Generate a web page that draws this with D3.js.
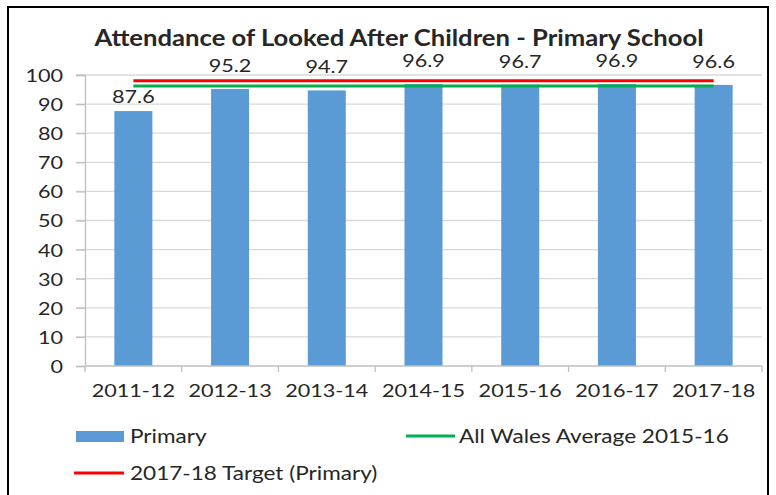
<!DOCTYPE html>
<html>
<head>
<meta charset="utf-8">
<script src="https://cdn.jsdelivr.net/npm/d3@7"></script>
<style>
  html, body { margin: 0; padding: 0; background: #fff; }
  svg { display: block; }
  text { font-family: Lato, "Open Sans", sans-serif; fill: #262626; }
</style>
</head>
<body>
<svg id="chart" width="776" height="495"></svg>
<script>
const title = "Attendance of Looked After Children - Primary School";
const categories = ["2011-12", "2012-13", "2013-14", "2014-15", "2015-16", "2016-17", "2017-18"];
const primaryValues = [87.6, 95.2, 94.7, 96.9, 96.7, 96.9, 96.6];
const walesAverage = [96.2, 96.2, 96.2, 96.2, 96.2, 96.2, 96.2];
const targetValues = [98, 98, 98, 98, 98, 98, 98];
const yTicks = [0, 10, 20, 30, 40, 50, 60, 70, 80, 90, 100];
const seriesNames = ["Primary", "All Wales Average 2015-16", "2017-18 Target (Primary)"];

const colors = { bar: "#5b9bd5", wales: "#00b050", target: "#ff0000", grid: "#d9d9d9", axis: "#bfbfbf" };
const STRETCH = 1.2;

const svg = d3.select("#chart");

function stretch(sel, k) {
  sel.each(function () {
    const w = this.getComputedTextLength();
    d3.select(this).attr("textLength", w * k).attr("lengthAdjust", "spacingAndGlyphs");
  });
}

// frame
svg.append("rect").attr("x", 8).attr("y", 7).attr("width", 760).attr("height", 520)
  .attr("fill", "none").attr("stroke", "#000").attr("stroke-width", 2);

const plot = { left: 85, right: 762, top: 75, bottom: 366 };

const x = d3.scaleBand().domain(categories).range([plot.left, plot.right])
  .paddingInner(0.607).paddingOuter(0.3035);
const y = d3.scaleLinear().domain([0, 100]).range([plot.bottom, plot.top]);
const cx = d => x(d) + x.bandwidth() / 2;

// gridlines
svg.append("g").selectAll("line").data(yTicks.filter(t => t > 0)).join("line")
  .attr("x1", plot.left - 9).attr("x2", plot.right)
  .attr("y1", d => y(d)).attr("y2", d => y(d))
  .attr("stroke", colors.grid).attr("stroke-width", 1.3);

// y axis
const yAxis = svg.append("g").attr("transform", `translate(${plot.left},0)`)
  .call(d3.axisLeft(y).tickValues(yTicks).tickSize(9).tickPadding(13).tickFormat(d3.format("d")));
yAxis.select(".domain").attr("stroke", colors.axis).attr("stroke-width", 1.3);
yAxis.selectAll(".tick line").attr("stroke", colors.axis).attr("stroke-width", 1.3);
yAxis.selectAll("text").attr("font-size", 18).attr("fill", "#262626")
  .attr("font-family", "Lato").attr("dy", "0.36em");
stretch(yAxis.selectAll("text"), STRETCH);

// bars
svg.append("g").selectAll("rect").data(primaryValues).join("rect")
  .attr("x", (d, i) => x(categories[i]))
  .attr("width", x.bandwidth())
  .attr("y", d => y(d))
  .attr("height", d => y(0) - y(d))
  .attr("fill", colors.bar);

// x axis
const xAxisG = svg.append("g").attr("transform", `translate(0,${plot.bottom})`);
xAxisG.append("line").attr("x1", plot.left).attr("x2", plot.right)
  .attr("stroke", colors.axis).attr("stroke-width", 1.3);
const boundaries = d3.range(categories.length + 1).map(i => plot.left + i * x.step());
xAxisG.selectAll("line.tk").data(boundaries).join("line").attr("class", "tk")
  .attr("x1", d => d).attr("x2", d => d).attr("y1", 0).attr("y2", 6)
  .attr("stroke", colors.axis).attr("stroke-width", 1.3);
const xl = xAxisG.selectAll("text").data(categories).join("text")
  .attr("x", d => cx(d)).attr("y", 31).attr("text-anchor", "middle")
  .attr("font-size", 18).text(d => d);
stretch(xl, STRETCH);

// lines
const line = d3.line().x((d, i) => cx(categories[i])).y(d => y(d));
svg.append("path").datum(walesAverage).attr("d", line)
  .attr("fill", "none").attr("stroke", colors.wales).attr("stroke-width", 3);
svg.append("path").datum(targetValues).attr("d", line)
  .attr("fill", "none").attr("stroke", colors.target).attr("stroke-width", 3);

// value labels (placed above the bar; moved just above the bar top when they would hit the lines)
const lineTop = y(d3.max(targetValues)) - 2;
const lineBottom = y(d3.min(walesAverage)) + 2;
const capH = 13;
const labelBaseline = d => {
  const b = y(d) - 17;
  const overlaps = (b - capH) < lineBottom && b > lineTop;
  return overlaps ? y(d) - 8 : b;
};
const vl = svg.append("g").selectAll("text").data(primaryValues).join("text")
  .attr("x", (d, i) => cx(categories[i])).attr("y", d => labelBaseline(d))
  .attr("text-anchor", "middle").attr("font-size", 18)
  .text(d => d3.format(".1f")(d));
stretch(vl, STRETCH);

// title
const t = svg.append("text").attr("x", 399).attr("y", 46).attr("text-anchor", "middle")
  .attr("font-size", 22).attr("font-weight", "bold").attr("fill", "#000").text(title);
stretch(t, 1.165);

// legend
const lg = svg.append("g");
lg.append("rect").attr("x", 76).attr("y", 431).attr("width", 48).attr("height", 11).attr("fill", colors.bar);
lg.append("line").attr("x1", 406).attr("x2", 455).attr("y1", 436).attr("y2", 436)
  .attr("stroke", colors.wales).attr("stroke-width", 3);
lg.append("line").attr("x1", 74).attr("x2", 124).attr("y1", 473).attr("y2", 473)
  .attr("stroke", colors.target).attr("stroke-width", 3);
const legendText = [
  { name: seriesNames[0], x: 130, y: 443 },
  { name: seriesNames[1], x: 459, y: 443 },
  { name: seriesNames[2], x: 130, y: 480 }
];
const lt = lg.selectAll("text").data(legendText).join("text")
  .attr("x", d => d.x).attr("y", d => d.y).attr("font-size", 18.5).text(d => d.name);
stretch(lt, 1.22);
</script>
</body>
</html>
